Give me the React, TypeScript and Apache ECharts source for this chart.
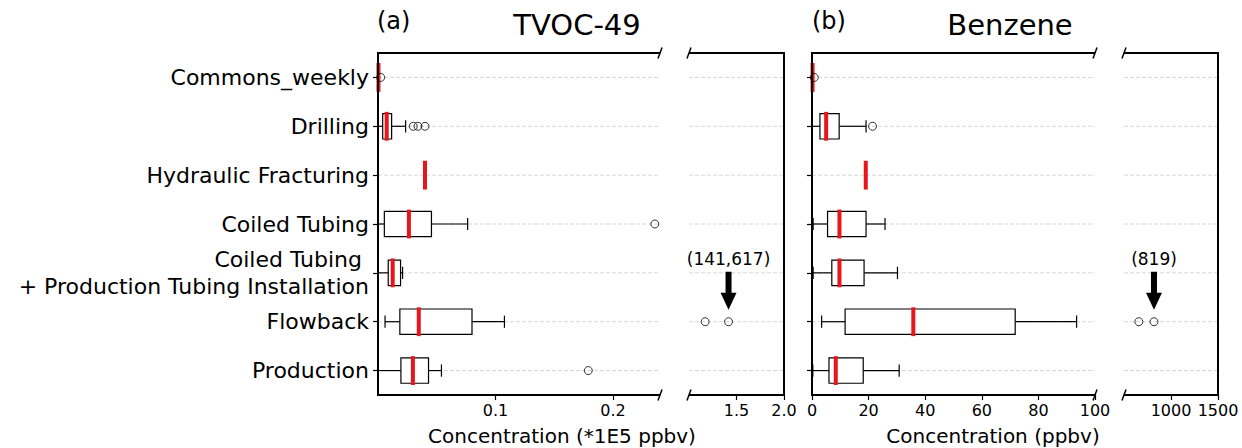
import React, { useEffect, useRef } from "react";
import * as echarts from "echarts";

const FONT = "DejaVu Sans";

const categories = [
  "Commons_weekly",
  "Drilling",
  "Hydraulic Fracturing",
  "Coiled Tubing",
  "Coiled Tubing \n+ Production Tubing Installation",
  "Flowback",
  "Production",
];

// [min, q1, median, q3, max]  (units: *1E5 ppbv)
const tvocBox = [
  [0.0002, 0.0003, 0.0004, 0.0005, 0.0006],
  [0.0, 0.004, 0.0074, 0.0116, 0.0235],
  [0.04, 0.04, 0.04, 0.04, 0.04],
  [0.0, 0.0054, 0.0263, 0.0455, 0.0763],
  [0.0, 0.0087, 0.0125, 0.0192, 0.0209],
  [0.006, 0.0186, 0.0347, 0.08, 0.1076],
  [0.0, 0.0195, 0.0297, 0.043, 0.054],
];
// [row, value]
const tvocOutliers = [
  [0, 0.0023],
  [1, 0.03],
  [1, 0.034],
  [1, 0.04],
  [3, 0.2356],
  [5, 1.17],
  [5, 1.41617],
  [6, 0.179],
];

// ppbv
const benzeneBox = [
  [0.1, 0.15, 0.2, 0.25, 0.3],
  [0.0, 2.8, 5.0, 9.6, 19.1],
  [19.0, 19.0, 19.0, 19.0, 19.0],
  [0.4, 5.5, 9.7, 19.1, 25.8],
  [0.4, 7.0, 9.7, 18.4, 30.2],
  [3.4, 11.7, 35.8, 71.8, 93.5],
  [0.3, 6.0, 8.4, 18.1, 30.8],
];
const benzeneOutliers = [
  [0, 0.8],
  [1, 21.4],
  [5, 658],
  [5, 819],
];

const tvocNote = { row: 5, value: 1.41617, text: "(141,617)" };
const benzeneNote = { row: 5, value: 819, text: "(819)" };

const tvocTicksLow = [0.1, 0.2];
const tvocTicksHigh = [1.5, 2.0];
const benzTicksLow = [0, 20, 40, 60, 80, 100];
const benzTicksHigh = [1000, 1500];

const ranges = [
  [0, 0.24],
  [1.0, 2.0],
  [0, 100],
  [500, 1500],
];

// layout
const TOP = 53;
const BOTTOM = 395;
const panels = [
  { left: 378, right: 660, breakRight: true },
  { left: 689, right: 784, breakLeft: true },
  { left: 812, right: 1095, breakRight: true },
  { left: 1124, right: 1218, breakLeft: true },
];

const RED = "#e8161c";

function renderBox(params: any, api: any) {
  const row = api.value(0);
  const mn = api.value(1);
  const q1 = api.value(2);
  const md = api.value(3);
  const q3 = api.value(4);
  const mx = api.value(5);
  const c = (v: number) => api.coord([v, row]);
  const y = c(md)[1];
  const band = Math.abs(api.coord([md, 1])[1] - api.coord([md, 0])[1]);
  const boxH = band * 0.52;
  const capH = band * 0.125;
  const medH = band * 0.59;
  const ls = { stroke: "#000", lineWidth: 1.2, fill: null };
  const children: any[] = [];
  if (q3 > q1 + 1e-9) {
    children.push({ type: "line", shape: { x1: c(mn)[0], y1: y, x2: c(q1)[0], y2: y }, style: ls });
    children.push({ type: "line", shape: { x1: c(q3)[0], y1: y, x2: c(mx)[0], y2: y }, style: ls });
    children.push({ type: "line", shape: { x1: c(mn)[0], y1: y - capH, x2: c(mn)[0], y2: y + capH }, style: ls });
    children.push({ type: "line", shape: { x1: c(mx)[0], y1: y - capH, x2: c(mx)[0], y2: y + capH }, style: ls });
    children.push({
      type: "rect",
      shape: { x: c(q1)[0], y: y - boxH / 2, width: c(q3)[0] - c(q1)[0], height: boxH },
      style: { fill: "#fff", stroke: "#000", lineWidth: 1.2 },
    });
  }
  children.push({
    type: "rect",
    shape: { x: c(md)[0] - 2, y: y - medH / 2, width: 4, height: medH },
    style: { fill: RED },
  });
  return { type: "group", children };
}

function renderGridLine(params: any, api: any) {
  const cs = params.coordSys;
  const y = api.coord([api.value(0), api.value(1)])[1];
  return {
    type: "line",
    shape: { x1: cs.x, y1: y, x2: cs.x + cs.width, y2: y },
    style: { stroke: "#cccccc", lineWidth: 0.8, lineDash: [4, 2] },
  };
}

function renderNote(params: any, api: any) {
  const p = api.coord([api.value(0), api.value(1)]);
  const x = p[0];
  const y0 = p[1];
  return {
    type: "group",
    children: [
      {
        type: "polygon",
        shape: {
          points: [
            [x - 3, y0 - 50],
            [x + 3, y0 - 50],
            [x + 3, y0 - 29],
            [x + 8, y0 - 29],
            [x, y0 - 12],
            [x - 8, y0 - 29],
            [x - 3, y0 - 29],
          ],
        },
        style: { fill: "#000" },
      },
      {
        type: "text",
        x: x,
        y: y0 - 63,
        style: {
          text: params.dataIndex === 0 ? (params.seriesName === "noteA" ? tvocNote.text : benzeneNote.text) : "",
          fill: "#000",
          fontSize: 17,
          fontFamily: FONT,
          align: "center",
          verticalAlign: "middle",
        },
      },
    ],
  };
}

export default function App() {
  const ref = useRef<HTMLDivElement>(null);
  useEffect(() => {
    document.body.style.margin = "0";
    if (!ref.current) return;
    const chart = echarts.init(ref.current, undefined, { renderer: "svg" });

    const tickVals = [tvocTicksLow, tvocTicksHigh, benzTicksLow, benzTicksHigh];

    const grids = panels.map((p) => ({
      left: p.left,
      top: TOP,
      width: p.right - p.left,
      height: BOTTOM - TOP,
      containLabel: false,
      outerBoundsMode: "none",
    }));

    const xAxes = panels.map((p, g) => ({
      gridIndex: g,
      type: "value",
      min: ranges[g][0],
      max: ranges[g][1],
      axisLine: { show: false },
      splitLine: { show: false },
      axisTick: {
        show: true,
        length: 5,
        customValues: tickVals[g],
        lineStyle: { color: "#000", width: 1.2 },
      },
      axisLabel: {
        show: true,
        customValues: tickVals[g],
        color: "#000",
        fontSize: 16,
        fontFamily: FONT,
        margin: 7,
        showMinLabel: true,
        showMaxLabel: true,
        formatter: (v: number) => (g < 2 ? v.toFixed(1) : String(v)),
      },
    }));

    const yAxes = panels.map((p, g) => ({
      gridIndex: g,
      type: "category",
      data: categories,
      inverse: true,
      axisLine: { show: false },
      splitLine: { show: false },
      axisTick: {
        show: g === 0 || g === 2,
        alignWithLabel: true,
        length: 5,
        lineStyle: { color: "#000", width: 1.2 },
      },
      axisLabel: {
        show: g === 0,
        color: "#000",
        fontSize: 22,
        fontFamily: FONT,
        margin: 9,
        lineHeight: 27,
        align: "right",
      },
    }));

    const series: any[] = [];
    panels.forEach((p, g) => {
      const [lo, hi] = ranges[g];
      series.push({
        type: "custom",
        name: "grid" + g,
        xAxisIndex: g,
        yAxisIndex: g,
        silent: true,
        z: 1,
        encode: { x: 0, y: 1 },
        data: categories.map((_, i) => [lo, i]),
        renderItem: renderGridLine,
      });
      const box = g < 2 ? tvocBox : benzeneBox;
      if (g === 0 || g === 2) {
        series.push({
          type: "custom",
          name: "box" + g,
          xAxisIndex: g,
          yAxisIndex: g,
          silent: true,
          z: 3,
          encode: { x: [1, 2, 3, 4, 5], y: 0 },
          data: box.map((b, i) => [i, ...b]),
          renderItem: renderBox,
        });
      }
      const outs = (g < 2 ? tvocOutliers : benzeneOutliers).filter((o) => o[1] >= lo && o[1] <= hi);
      series.push({
        type: "scatter",
        name: "out" + g,
        xAxisIndex: g,
        yAxisIndex: g,
        clip: false,
        z: 4,
        symbol: "circle",
        symbolSize: 8,
        itemStyle: { color: "rgba(255,255,255,0)", borderColor: "#000", borderWidth: 1 },
        data: outs.map((o) => [o[1], o[0]]),
      });
      if (g === 1 || g === 3) {
        const note = g === 1 ? tvocNote : benzeneNote;
        series.push({
          type: "custom",
          name: g === 1 ? "noteA" : "noteB",
          xAxisIndex: g,
          yAxisIndex: g,
          silent: true,
          z: 5,
          encode: { x: 0, y: 1 },
          data: [[note.value, note.row]],
          renderItem: renderNote,
        });
      }
    });

    const graphics: any[] = [];
    const spine = (x1: number, y1: number, x2: number, y2: number) =>
      graphics.push({
        type: "line",
        silent: true,
        z: 10,
        shape: { x1, y1, x2, y2 },
        style: { stroke: "#000", lineWidth: 2 },
      });
    const brk = (x: number, y: number) =>
      graphics.push({
        type: "line",
        silent: true,
        z: 10,
        shape: { x1: x - 2, y1: y + 5.5, x2: x + 2, y2: y - 5.5 },
        style: { stroke: "#000", lineWidth: 1.5 },
      });
    panels.forEach((p: any) => {
      spine(p.left, TOP, p.right, TOP);
      spine(p.left, BOTTOM, p.right, BOTTOM);
      if (p.breakRight) {
        spine(p.left, TOP - 1, p.left, BOTTOM + 1);
        brk(p.right, TOP);
        brk(p.right, BOTTOM);
      }
      if (p.breakLeft) {
        spine(p.right, TOP - 1, p.right, BOTTOM + 1);
        brk(p.left, TOP);
        brk(p.left, BOTTOM);
      }
    });
    const txt = (text: string, x: number, y: number, size: number, align: string) =>
      graphics.push({
        type: "text",
        silent: true,
        x,
        y,
        style: {
          text,
          fill: "#000",
          fontSize: size,
          fontFamily: FONT,
          align,
          verticalAlign: "middle",
        },
      });
    txt("(a)", 377, 21, 24, "left");
    txt("TVOC-49", 577, 25, 29, "center");
    txt("(b)", 812, 21, 24, "left");
    txt("Benzene", 1010, 25, 29, "center");
    txt("Concentration (*1E5 ppbv)", 562, 436, 20, "center");
    txt("Concentration (ppbv)", 993, 436, 20, "center");

    chart.setOption({
      animation: false,
      backgroundColor: "#fff",
      textStyle: { fontFamily: FONT },
      grid: grids,
      xAxis: xAxes,
      yAxis: yAxes,
      series,
      graphic: graphics,
    });
    return () => chart.dispose();
  }, []);
  return <div ref={ref} style={{ width: 1242, height: 448 }} />;
}
